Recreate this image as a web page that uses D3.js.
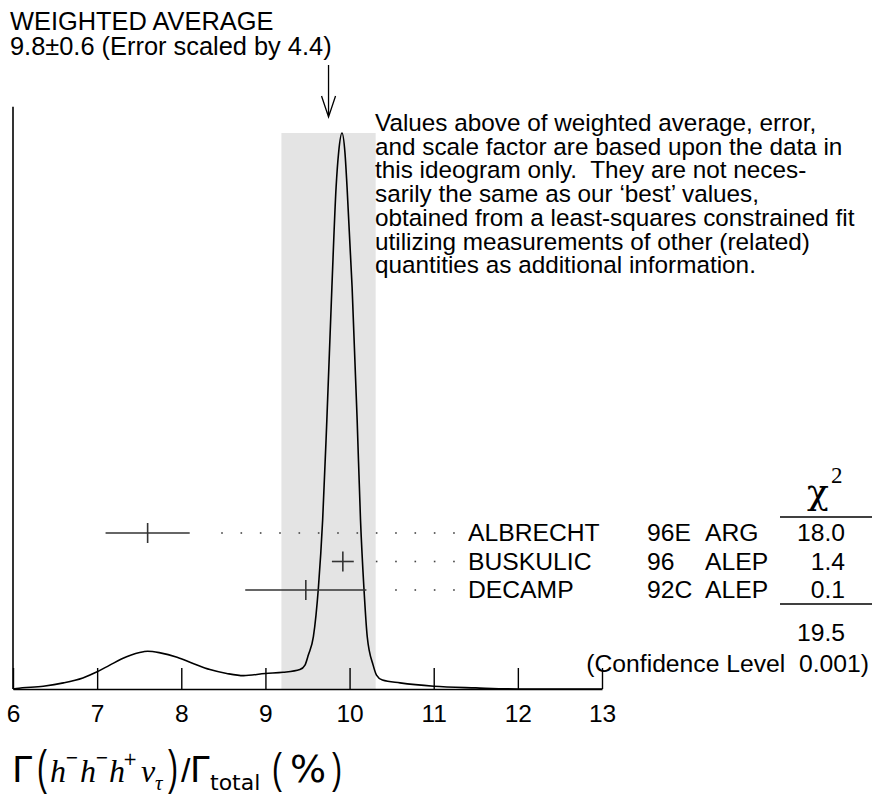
<!DOCTYPE html>
<html>
<head>
<meta charset="utf-8">
<script src="https://cdn.jsdelivr.net/npm/d3@7"></script>
<style>
  body { margin: 0; background: #fff; }
  svg text { font-family: "Liberation Sans", Arial, sans-serif; fill: #000; }
</style>
</head>
<body>
<div id="chart"></div>
<script>
// Measurements shown in the ideogram
const names = ['ALBRECHT', 'BUSKULIC', 'DECAMP'];
const refs = ['96E', '96', '92C'];
const experiments = ['ARG', 'ALEP', 'ALEP'];
const values = [7.60, 9.92, 9.48];
const errors = [0.50, 0.13, 0.72];
const chi2 = ['18.0', '1.4', '0.1'];
const chi2Total = '19.5';
const confidence = '(Confidence Level\u00a0\u00a00.001)';

// Weighted average and its (scaled) error
const average = 9.75;
const averageError = 0.56;

// Ideogram curve (x in %, y relative to peak)
const curveX = [6.0, 6.04, 6.36, 6.6, 6.83, 7.0, 7.15, 7.35, 7.55, 7.6, 7.75, 7.95, 8.14, 8.34, 8.54,
  8.74, 9.0, 9.21, 9.41, 9.47, 9.51, 9.57, 9.63, 9.68, 9.73, 9.79, 9.84, 9.87, 9.91, 9.945, 9.97,
  10.03, 10.09, 10.13, 10.17, 10.21, 10.28, 10.32, 10.39, 10.6, 11.0, 11.5, 12.0, 13.0];
const curveY = [0.0, 0.001, 0.005, 0.011, 0.020, 0.031, 0.043, 0.058, 0.067, 0.068, 0.065, 0.057, 0.046, 0.035, 0.028,
  0.024, 0.028, 0.030, 0.035, 0.043, 0.061, 0.094, 0.183, 0.304, 0.484, 0.723, 0.903, 0.965, 1.0, 0.965, 0.903,
  0.723, 0.484, 0.304, 0.183, 0.094, 0.043, 0.025, 0.016, 0.011, 0.005, 0.002, 0.0, 0.0];

const xTicks = [6, 7, 8, 9, 10, 11, 12, 13];

const noteLines = [
  'Values above of weighted average, error,',
  'and scale factor are based upon the data in',
  'this ideogram only.  They are not neces-',
  'sarily the same as our \u2018best\u2019 values,',
  'obtained from a least-squares constrained fit',
  'utilizing measurements of other (related)',
  'quantities as additional information.'
];

const width = 872, height = 794;

const svg = d3.select('#chart').append('svg')
  .attr('width', width)
  .attr('height', height);

const x = d3.scaleLinear().domain([6, 13]).range([13, 602]);
const y = d3.scaleLinear().domain([0, 1]).range([689, 133]);
const row = d3.scalePoint().domain(names).range([533, 590]);

// shaded band for the weighted average
svg.append('rect')
  .attr('x', x(average - averageError))
  .attr('width', x(average + averageError) - x(average - averageError))
  .attr('y', y(1))
  .attr('height', y(0) - y(1))
  .attr('fill', '#e4e4e4');

// left axis line
svg.append('line')
  .attr('x1', x(6)).attr('x2', x(6))
  .attr('y1', y(0)).attr('y2', y(1.047))
  .attr('stroke', '#000').attr('stroke-width', 1.6);

// bottom axis, ticks pointing up
const xAxis = svg.append('g')
  .attr('transform', 'translate(0,' + y(0) + ')')
  .call(d3.axisBottom(x).tickValues(xTicks).tickFormat(d3.format('d'))
    .tickSizeInner(-21).tickSizeOuter(0).tickPadding(16));
xAxis.select('.domain').attr('stroke-width', 1.6);
xAxis.selectAll('.tick line').attr('stroke-width', 1.4);
xAxis.selectAll('.tick text')
  .attr('font-family', '"Liberation Sans", Arial, sans-serif')
  .attr('font-size', 24.5);

// ideogram curve
const pts = curveX.map((d, i) => [d, curveY[i]]);
svg.append('path')
  .datum(pts)
  .attr('fill', 'none')
  .attr('stroke', '#000')
  .attr('stroke-width', 1.6)
  .attr('d', d3.line().x(d => x(d[0])).y(d => y(d[1])).curve(d3.curveMonotoneX));

// arrow pointing at weighted average
const ax = x(average);
svg.append('path')
  .attr('d', `M${ax},65 L${ax},117 M${ax - 7},96 L${ax},117 L${ax + 7},96`)
  .attr('fill', 'none').attr('stroke', '#000').attr('stroke-width', 1.3);

// header text
svg.append('text').attr('x', 10).attr('y', 30).attr('font-size', 25.4).text('WEIGHTED AVERAGE');
svg.append('text').attr('x', 10).attr('y', 55).attr('font-size', 25.4).text('9.8\u00b10.6 (Error scaled by 4.4)');

// note
svg.append('text')
  .attr('font-size', 24.3)
  .attr('xml:space', 'preserve')
  .selectAll('tspan')
  .data(noteLines)
  .enter().append('tspan')
  .attr('x', 375)
  .attr('y', (d, i) => 131 + i * 23.7)
  .text(d => d);

// error bars
const dotStart = 222, dotStep = 19.33, dotEnd = 456;
names.forEach((name, i) => {
  const cy = row(name);
  const lo = x(values[i] - errors[i]), hi = x(values[i] + errors[i]), cx = x(values[i]);
  svg.append('line').attr('x1', lo).attr('x2', hi).attr('y1', cy).attr('y2', cy)
    .attr('stroke', '#333').attr('stroke-width', 1.6);
  svg.append('line').attr('x1', cx).attr('x2', cx).attr('y1', cy - 10).attr('y2', cy + 10)
    .attr('stroke', '#333').attr('stroke-width', 1.6);

  // dotted leader to the label
  const dots = [];
  for (let dx = dotStart; dx <= dotEnd; dx += dotStep) {
    if (dx >= hi + 20) dots.push(dx);
  }
  svg.selectAll(null).data(dots).enter().append('rect')
    .attr('x', d => d - 0.8).attr('y', cy - 0.8)
    .attr('width', 1.6).attr('height', 1.6)
    .attr('fill', '#444');

  svg.append('text').attr('x', 468).attr('y', cy + 8).attr('font-size', 24.7).text(name);
  svg.append('text').attr('x', 647).attr('y', cy + 8).attr('font-size', 24.7).text(refs[i]);
  svg.append('text').attr('x', 705).attr('y', cy + 8).attr('font-size', 24.7).text(experiments[i]);
  svg.append('text').attr('x', 845).attr('y', cy + 8).attr('font-size', 24.7)
    .attr('text-anchor', 'end').text(chi2[i]);
});

// chi-square header and totals
svg.append('text').attr('x', 818).attr('y', 504).attr('text-anchor', 'middle')
  .style('font-family', '"DejaVu Serif", serif')
  .attr('font-size', 36).text('\u03c7');
svg.append('text').attr('x', 831).attr('y', 483)
  .style('font-family', '"Liberation Serif", "Times New Roman", serif')
  .attr('font-size', 23).text('2');
svg.append('line').attr('x1', 780).attr('x2', 872).attr('y1', 517).attr('y2', 517)
  .attr('stroke', '#000').attr('stroke-width', 1.4);
svg.append('line').attr('x1', 780).attr('x2', 872).attr('y1', 604).attr('y2', 604)
  .attr('stroke', '#000').attr('stroke-width', 1.4);
svg.append('text').attr('x', 845).attr('y', 641).attr('font-size', 24.7)
  .attr('text-anchor', 'end').text(chi2Total);
svg.append('text').attr('x', 869).attr('y', 672).attr('font-size', 24.7)
  .attr('text-anchor', 'end').text(confidence);

// x axis title: Γ(h− h− h+ ντ)/Γtotal (%)
const title = svg.append('g').attr('class', 'title');
const sans = '"DejaVu Sans", sans-serif';
const lsans = '"Liberation Sans", sans-serif';
const serif = '"Liberation Serif", serif';
const parts = [
  {t: '\u0393', x: 12, y: 782, s: 36, f: sans},
  {t: '(', x: 37, y: 784, s: 30, f: lsans, sy: 1.6},
  {t: 'h', x: 50, y: 782, s: 32, f: serif, it: true},
  {t: '\u2212', x: 65, y: 763, s: 16, f: sans},
  {t: 'h', x: 80, y: 782, s: 32, f: serif, it: true},
  {t: '\u2212', x: 95, y: 763, s: 16, f: sans},
  {t: 'h', x: 109, y: 782, s: 32, f: serif, it: true},
  {t: '+', x: 123, y: 765, s: 17, f: sans},
  {t: '\u03bd', x: 141, y: 782, s: 32, f: serif, it: true},
  {t: '\u03c4', x: 155, y: 790, s: 21, f: serif, it: true},
  {t: ')', x: 168, y: 784, s: 30, f: lsans, sy: 1.6},
  {t: '/', x: 181, y: 782, s: 34, f: lsans},
  {t: '\u0393', x: 190, y: 782, s: 35, f: sans},
  {t: 'total', x: 210, y: 790, s: 22, f: sans},
  {t: '(', x: 272, y: 783, s: 30, f: lsans, sy: 1.4},
  {t: '%', x: 290, y: 782, s: 38, f: sans},
  {t: ')', x: 332, y: 783, s: 30, f: lsans, sy: 1.4}
];
title.selectAll('text').data(parts).enter().append('text')
  .attr('x', d => d.sy ? 0 : d.x)
  .attr('y', d => d.sy ? 0 : d.y)
  .attr('transform', d => d.sy ? `translate(${d.x},${d.y}) scale(1,${d.sy})` : null)
  .attr('font-size', d => d.s)
  .style('font-family', d => d.f)
  .style('font-style', d => d.it ? 'italic' : 'normal')
  .text(d => d.t);
</script>
</body>
</html>
